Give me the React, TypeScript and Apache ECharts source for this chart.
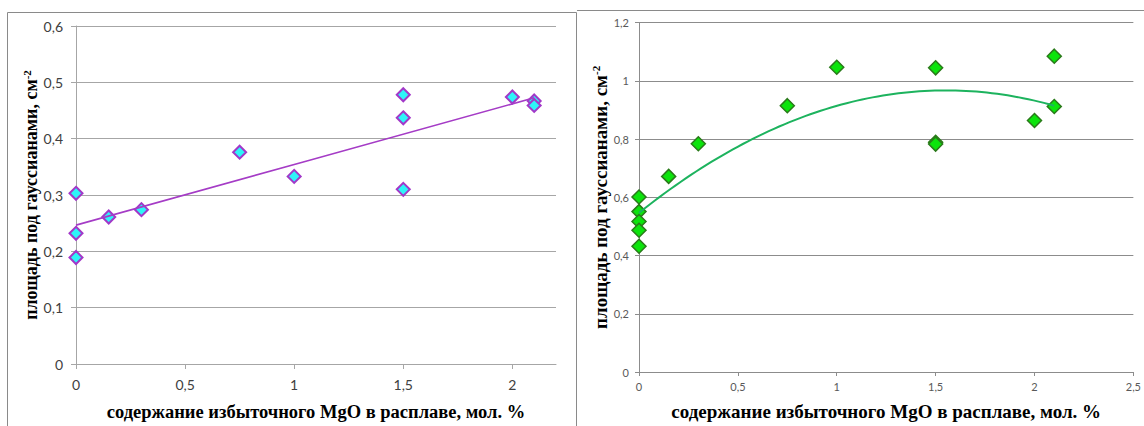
import React, { useEffect, useRef } from "react";
import * as echarts from "echarts";

// Left chart data
const leftX = [0, 0, 0, 0.15, 0.3, 0.75, 1, 1.5, 1.5, 1.5, 2, 2.1, 2.1];
const leftY = [0.303, 0.232, 0.189, 0.261, 0.274, 0.376, 0.333, 0.478, 0.437, 0.31, 0.474, 0.467, 0.459];

// Right chart data
const rightX = [0, 0, 0, 0, 0, 0.15, 0.3, 0.75, 1, 1.5, 1.5, 1.5, 2, 2.1, 2.1];
const rightY = [0.601, 0.551, 0.517, 0.487, 0.432, 0.672, 0.784, 0.915, 1.047, 1.045, 0.789, 0.783, 0.864, 1.085, 0.912];

const xTitle = "содержание избыточного MgO в расплаве, мол. %";
const yTitle = "площадь под гауссианами, см";
const ySup = "-2";

// Least squares polynomial fit (degree 1 or 2)
function polyFit(xs: number[], ys: number[], deg: number): number[] {
  const n = deg + 1;
  const A: number[][] = [];
  for (let i = 0; i < n; i++) {
    A.push([]);
    for (let j = 0; j < n; j++) {
      let s = 0;
      for (let k = 0; k < xs.length; k++) s += Math.pow(xs[k], i + j);
      A[i].push(s);
    }
    let b = 0;
    for (let k = 0; k < xs.length; k++) b += ys[k] * Math.pow(xs[k], i);
    A[i].push(b);
  }
  for (let c = 0; c < n; c++) {
    let p = c;
    for (let r = c + 1; r < n; r++) if (Math.abs(A[r][c]) > Math.abs(A[p][c])) p = r;
    [A[c], A[p]] = [A[p], A[c]];
    for (let r = 0; r < n; r++) {
      if (r === c) continue;
      const f = A[r][c] / A[c][c];
      for (let j = c; j <= n; j++) A[r][j] -= f * A[c][j];
    }
  }
  return A.map((row, i) => row[n] / row[i]);
}

function trend(xs: number[], ys: number[], deg: number, steps: number) {
  const coef = polyFit(xs, ys, deg);
  const xmin = Math.min(...xs);
  const xmax = Math.max(...xs);
  const out: number[][] = [];
  for (let i = 0; i <= steps; i++) {
    const x = xmin + ((xmax - xmin) * i) / steps;
    let y = 0;
    coef.forEach((c, p) => (y += c * Math.pow(x, p)));
    out.push([x, y]);
  }
  return out;
}

const fmt = (v: number) => String(Math.round(v * 10) / 10).replace(".", ",");

const titleRich = (size: number) => ({
  t: { fontFamily: "Liberation Serif", fontWeight: "bold", fontSize: size, color: "#000" },
  s: { fontFamily: "Liberation Serif", fontWeight: "bold", fontSize: Math.round(size * 0.6), color: "#000", verticalAlign: "top" },
});

export default function App() {
  const ref = useRef<HTMLDivElement>(null);
  useEffect(() => {
    if (!ref.current) return;
    const chart = echarts.init(ref.current, null, { renderer: "svg" });
    const leftGray = "#A6A6A6";
    const rightGray = "#8C8C8C";
    chart.setOption({
      animation: false,
      backgroundColor: "#fff",
      grid: [
        { left: 76, top: 26, width: 480, height: 339 },
        { left: 639, top: 22.7, width: 500, height: 350 },
      ],
      xAxis: [
        {
          gridIndex: 0,
          type: "value",
          min: 0,
          max: 2.2,
          interval: 0.5,
          name: xTitle,
          nameLocation: "middle",
          nameGap: 38,
          nameTextStyle: { fontFamily: "Liberation Serif", fontWeight: "bold", fontSize: 18.5, color: "#000" },
          axisLine: { show: true, onZero: false, lineStyle: { color: leftGray } },
          axisTick: { show: true, length: 5, lineStyle: { color: leftGray } },
          axisLabel: { showMaxLabel: false, formatter: fmt, fontFamily: "Lato", fontSize: 14, color: "#404040", margin: 13 },
          splitLine: { show: false },
        },
        {
          gridIndex: 1,
          type: "value",
          min: 0,
          max: 2.5,
          interval: 0.5,
          name: xTitle,
          nameLocation: "middle",
          nameGap: 30,
          nameTextStyle: { fontFamily: "Liberation Serif", fontWeight: "bold", fontSize: 19, color: "#000" },
          axisLine: { show: true, onZero: false, lineStyle: { color: rightGray } },
          axisTick: { show: true, length: 4, lineStyle: { color: rightGray } },
          axisLabel: { formatter: fmt, fontFamily: "Lato", fontSize: 11, color: "#595959", margin: 9 },
          splitLine: { show: false },
        },
      ],
      yAxis: [
        {
          gridIndex: 0,
          type: "value",
          min: 0,
          max: 0.6,
          interval: 0.1,
          name: `{t|${yTitle}}{s|${ySup}}`,
          nameLocation: "middle",
          nameGap: 34,
          nameRotate: 90,
          nameTextStyle: { rich: titleRich(18) },
          axisLine: { show: true, lineStyle: { color: leftGray } },
          axisTick: { show: true, length: 5, lineStyle: { color: leftGray } },
          axisLabel: { formatter: fmt, fontFamily: "Lato", fontSize: 14, color: "#404040", margin: 13 },
          splitLine: { show: true, lineStyle: { color: leftGray } },
        },
        {
          gridIndex: 1,
          type: "value",
          min: 0,
          max: 1.2,
          interval: 0.2,
          name: `{t|${yTitle}}{s|${ySup}}`,
          nameLocation: "middle",
          nameGap: 21,
          nameRotate: 90,
          nameTextStyle: { rich: titleRich(19) },
          axisLine: { show: true, lineStyle: { color: rightGray } },
          axisTick: { show: true, length: 4, lineStyle: { color: rightGray } },
          axisLabel: { formatter: fmt, fontFamily: "Lato", fontSize: 11, color: "#595959", margin: 10 },
          splitLine: { show: true, lineStyle: { color: rightGray } },
        },
      ],
      series: [
        {
          type: "scatter",
          xAxisIndex: 0,
          yAxisIndex: 0,
          symbol: "diamond",
          symbolSize: 13,
          itemStyle: { color: "#2EF4F8", borderColor: "#A238C8", borderWidth: 2, opacity: 1 },
          data: leftX.map((x, i) => [x, leftY[i]]),
        },
        {
          type: "line",
          xAxisIndex: 0,
          yAxisIndex: 0,
          showSymbol: false,
          symbol: "none",
          lineStyle: { color: "#A53CC6", width: 1.6 },
          data: trend(leftX, leftY, 1, 2),
          z: 3,
        },
        {
          type: "scatter",
          xAxisIndex: 1,
          yAxisIndex: 1,
          symbol: "diamond",
          symbolSize: 14,
          itemStyle: { color: "#0CE40C", borderColor: "#2A7A1A", borderWidth: 1.5, opacity: 1 },
          data: rightX.map((x, i) => [x, rightY[i]]),
        },
        {
          type: "line",
          xAxisIndex: 1,
          yAxisIndex: 1,
          showSymbol: false,
          symbol: "none",
          smooth: false,
          lineStyle: { color: "#1DB35E", width: 2 },
          data: trend(rightX, rightY, 2, 80),
          z: 3,
        },
      ],
      graphic: [
        {
          type: "rect",
          shape: { x: 7.5, y: 12.5, width: 569, height: 430 },
          style: { fill: "none", stroke: "#8A8A8A", lineWidth: 1 },
          silent: true,
        },
        {
          type: "line",
          shape: { x1: 577, y1: 10.5, x2: 1144, y2: 10.5 },
          style: { stroke: "#8A8A8A", lineWidth: 1 },
          silent: true,
        },
      ],
    });
    return () => chart.dispose();
  }, []);
  return <div ref={ref} style={{ position: "absolute", left: 0, top: 0, width: 1144, height: 426 }} />;
}
